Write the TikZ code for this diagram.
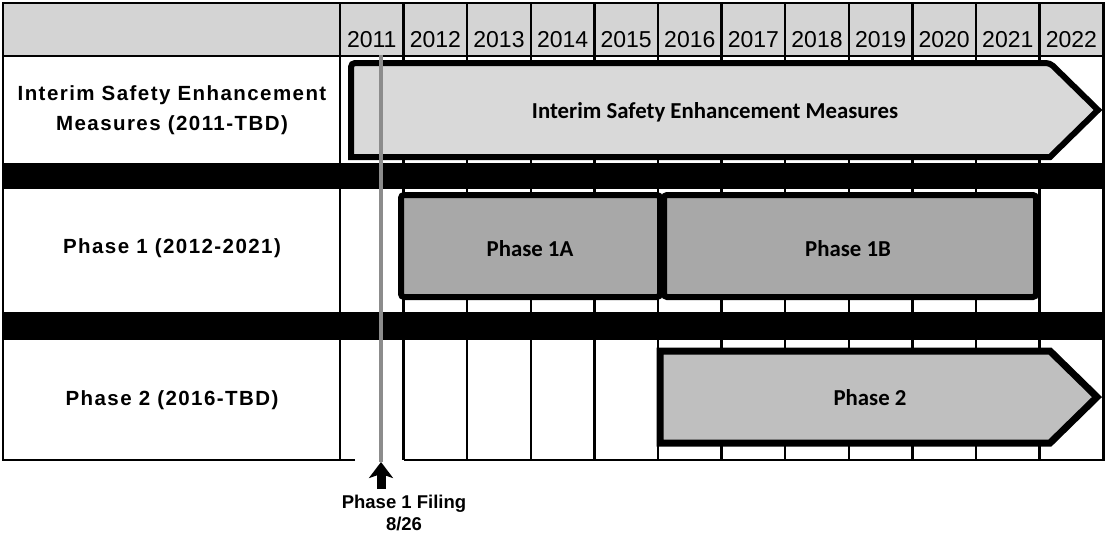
\documentclass[tikz,border=0pt]{standalone}
\usepackage{fontspec}
\setmainfont{Liberation Sans}
\newfontfamily\rowfont{Liberation Sans}[LetterSpace=7]
\newfontfamily\barfont{Carlito}
\usetikzlibrary{arrows.meta}

\begin{document}
\begin{tikzpicture}[x=1pt,y=-1pt,
    grid line/.style={line width=2.5pt},
    band/.style={fill=black},
    bar/.style={draw=black,line width=6pt,line join=miter},
    year label/.style={anchor=base,inner sep=0pt,font=\fontsize{23}{25}\selectfont},
    row label/.style={align=center,font=\rowfont\bfseries\fontsize{20.5}{30}\selectfont},
    bar label/.style={font=\barfont\bfseries\fontsize{22.8}{25}\selectfont},
    filing label/.style={align=center,font=\bfseries\fontsize{18.5}{22}\selectfont},
    filing arrow/.style={-{Stealth[length=16pt,width=24pt,inset=4pt]},line width=9pt}]

    \useasboundingbox[fill=white] (0,0) rectangle (1105,539);

    % header and black bands
    \fill[black!17] (3,3) rectangle (1103.5,56);
    \fill[band] (3,163) rectangle (1103.5,189);
    \fill[band] (3,312) rectangle (1103.5,340);

    % grid
    \draw[grid line] (355,460) -- (3,460) -- (3,3) -- (1103.5,3) -- (1103.5,460) -- (403.6,460);
    \draw[grid line] (3,56) -- (1103.5,56);
    \draw[grid line] (340,3) -- (340,460);
    \foreach \i in {1,...,11}
        \draw[grid line] ({340+\i*63.6},3) -- ({340+\i*63.6},460);

    \foreach \yr [count=\i from 0] in {2011,...,2022}
        \node[year label] (y\yr) at ({340+\i*63.6+31.8},47) {\yr};

    % row labels
    \node[row label] (interim) at (172,110) {Interim Safety Enhancement\\Measures (2011-TBD)};
    \node[row label] (phase1) at (172,248) {Phase 1 (2012-2021)};
    \node[row label] (phase2) at (172,400) {Phase 2 (2016-TBD)};

    % bars
    \draw[bar,fill=black!15] (351,110) [rounded corners=4pt] -- (351,63) -- (1050,63)
        [sharp corners] -- (1098,110) -- (1050,157) -- (351,157) [rounded corners=4pt] -- cycle;
    \draw[bar,fill=black!34,rounded corners=3pt] (401,195) rectangle (660,297);
    \draw[bar,fill=black!34,rounded corners=3pt] (664,195) rectangle (1036,297);
    \draw[bar,fill=black!25,line width=7pt] (660,351) -- (1050,351) -- (1097,397) -- (1050,443) -- (660,443) -- cycle;

    \node[bar label] (ism) at (715,112) {Interim Safety Enhancement Measures};
    \node[bar label] (p1a) at (530,249) {Phase 1A};
    \node[bar label] (p1b) at (848,249) {Phase 1B};
    \node[bar label] (p2) at (870,398) {Phase 2};

    % filing marker
    \coordinate (marktop) at (381,55);
    \coordinate (markbot) at (381,462);
    \coordinate (markbase) at (381,489);
    \draw[black!45,line width=4.5pt] (marktop) -- (markbot);
    \node[filing label] (filing) at (404,513) {Phase 1 Filing\\8/26};
    \draw[filing arrow] (markbase) -- (markbot);
\end{tikzpicture}
\end{document}
